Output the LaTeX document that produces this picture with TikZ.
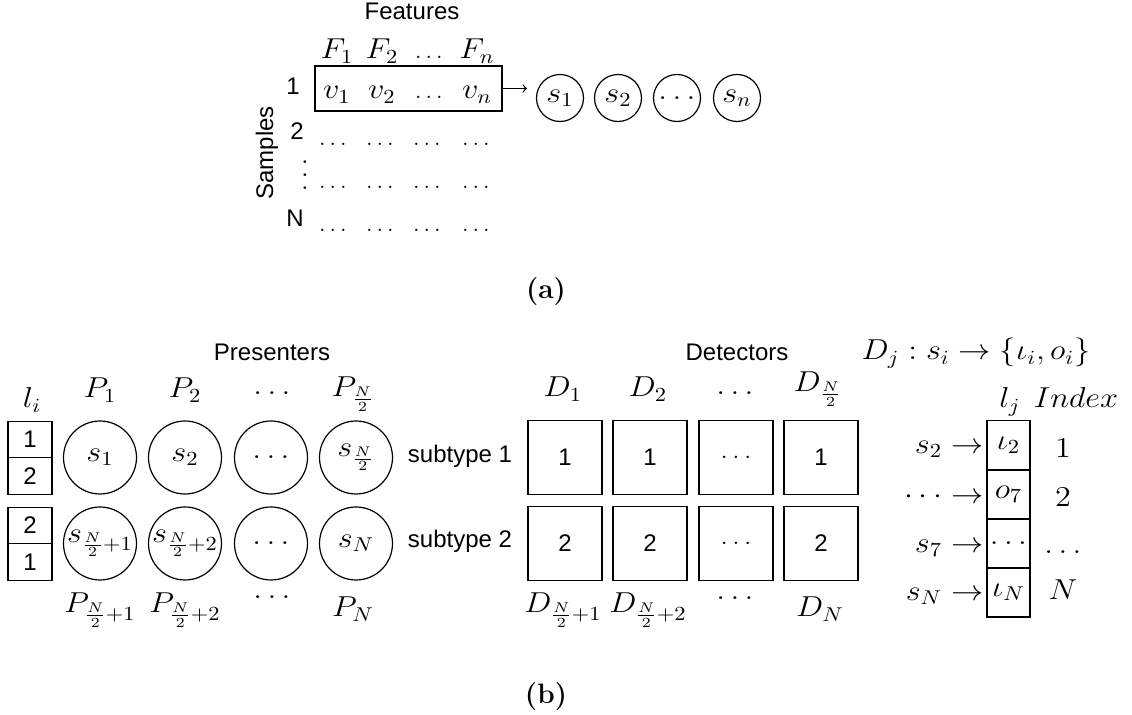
\documentclass[tikz,border=0pt]{standalone}
\usepackage{fontspec}
\usepackage{graphicx}
\setsansfont{Liberation Sans}
% math set slightly wide, as in the drawing
\newcommand{\wm}[1]{\scalebox{1.12}[1]{$#1$}}
% a tall stack of three dots
\newcommand{\tallvdots}{\vbox{\baselineskip=6.5pt\lineskiplimit=-10pt\hbox{.}\hbox{.}\hbox{.}}}
\begin{document}
\begin{tikzpicture}[x=0.5pt,y=-0.5pt,line width=0.6pt,
  mth/.style={inner sep=0pt,font=\fontsize{14}{16}\selectfont},
  dotrow/.style={inner sep=0pt,font=\fontsize{12.5}{14}\selectfont},
  sf/.style={inner sep=0pt,font=\fontsize{12}{14}\selectfont\sffamily},
  subcap/.style={inner sep=0pt,font=\fontsize{14}{16}\selectfont\bfseries},
  acirc/.style={circle,draw,minimum size=23.5pt,inner sep=0pt,font=\fontsize{14}{16}\selectfont},
  bcirc/.style={circle,draw,minimum size=36.5pt,inner sep=0pt,font=\fontsize{14}{16}\selectfont},
  dsq/.style={rectangle,draw,minimum width=37pt,minimum height=37pt,inner sep=0pt,font=\fontsize{12}{14}\selectfont\sffamily},
  lcell/.style={rectangle,draw,minimum width=22pt,minimum height=18.25pt,inner sep=0pt,font=\fontsize{12}{14}\selectfont\sffamily},
  jcell/.style={rectangle,draw,minimum width=21.5pt,minimum height=24.5pt,inner sep=0pt,font=\fontsize{14}{16}\selectfont},
  rowbox/.style={rectangle,draw,minimum width=93.5pt,minimum height=22.5pt,inner sep=0pt}]
\useasboundingbox (0,0) rectangle (1132,715);

% ---------- (a) feature matrix ----------
\node[sf,anchor=base] (feat) at (412,19.5) {Features};
\node[mth,anchor=base] (f1) at (337,59) {\wm{F_1}};
\node[mth,anchor=base] (f2) at (382,59) {\wm{F_2}};
\node[dotrow,anchor=base] (fd) at (429,59) {$\ldots$};
\node[mth,anchor=base] (fn) at (477,59) {\wm{F_n}};

\node[rowbox] (row1) at (408.5,88.5) {};
\node[mth,anchor=base] (v1) at (337,99) {\wm{v_1}};
\node[mth,anchor=base] (v2) at (382,99) {\wm{v_2}};
\node[dotrow,anchor=base] (vd) at (429,99) {$\ldots$};
\node[mth,anchor=base] (vn) at (477,99) {\wm{v_n}};

\node[sf,anchor=base] (r1) at (293,95) {1};
\node[sf,anchor=base] (r2) at (297,140) {2};
\node[mth] (rv) at (305,175) {\tallvdots};
\node[sf,anchor=base] (rN) at (295,227) {N};
\node[sf,rotate=90] (samples) at (267,153) {Samples};

\foreach \x [count=\i] in {333,380,427,476}{
  \node[dotrow,anchor=base] (da\i) at (\x,146) {$\ldots$};
  \node[dotrow,anchor=base] (db\i) at (\x,189) {$\ldots$};
  \node[dotrow,anchor=base] (dc\i) at (\x,232) {$\ldots$};
}

\coordinate (aend) at (527,88.5);
\draw[->] (row1.east) -- (aend);

\node[acirc] (as1) at (560,98) {\wm{s_1}};
\node[acirc] (as2) at (618,98) {\wm{s_2}};
\node[acirc] (asd) at (677,98) {\wm{\ldots}};
\node[acirc] (asn) at (737,98) {\wm{s_n}};

\node[subcap] (capa) at (546,292) {(a)};

% ---------- (b) presenters ----------
\node[sf,anchor=base] (pres) at (272,361) {Presenters};
\node[mth,anchor=base] (li) at (32,408) {\wm{l_i}};
\node[mth,anchor=base] (p1) at (100,398) {\wm{P_1}};
\node[mth,anchor=base] (p2) at (185,398) {\wm{P_2}};
\node[mth] (pd) at (272,393) {\wm{\ldots}};
\node[mth,anchor=base] (ph) at (353,397) {\wm{P_{\frac{N}{2}}}};

\node[lcell] (l11) at (30,439.5) {1};
\node[lcell] (l12) at (30,476) {2};
\node[lcell] (l21) at (30,525.5) {2};
\node[lcell] (l22) at (30,562) {1};

\node[bcirc] (c11) at (100,457.5) {\wm{s_1}};
\node[bcirc] (c12) at (185,457.5) {\wm{s_2}};
\node[bcirc] (c13) at (271,457.5) {\wm{\ldots}};
\node[bcirc] (c14) at (356,457.5) {\wm{s_{\frac{N}{2}}}};
\node[bcirc] (c21) at (100,543.5) {\wm{s_{\frac{N}{2}+1}}};
\node[bcirc] (c22) at (185,543.5) {\wm{s_{\frac{N}{2}+2}}};
\node[bcirc] (c23) at (271,543.5) {\wm{\ldots}};
\node[bcirc] (c24) at (356,543.5) {\wm{s_N}};

\node[mth,anchor=base] (pb1) at (100,613) {\wm{P_{\frac{N}{2}+1}}};
\node[mth,anchor=base] (pb2) at (185,613) {\wm{P_{\frac{N}{2}+2}}};
\node[mth] (pbd) at (272,597) {\wm{\ldots}};
\node[mth,anchor=base] (pbn) at (353,617) {\wm{P_N}};

\node[sf,anchor=base] (sub1) at (460,463) {subtype 1};
\node[sf,anchor=base] (sub2) at (460,548) {subtype 2};

% ---------- (b) detectors ----------
\node[sf,anchor=base] (det) at (737,361) {Detectors};
\node[mth,anchor=base] (d1) at (563,397) {\wm{D_1}};
\node[mth,anchor=base] (d2) at (648,397) {\wm{D_2}};
\node[mth] (dd) at (735,393) {\wm{\ldots}};
\node[mth,anchor=base] (dh) at (818,392) {\wm{D_{\frac{N}{2}}}};

\node[dsq] (q11) at (565,457.5) {1};
\node[dsq] (q12) at (650,457.5) {1};
\node[dsq] (q13) at (736,457.5) {\wm{\ldots}};
\node[dsq] (q14) at (821,457.5) {1};
\node[dsq] (q21) at (565,543.5) {2};
\node[dsq] (q22) at (650,543.5) {2};
\node[dsq] (q23) at (736,543.5) {\wm{\ldots}};
\node[dsq] (q24) at (821,543.5) {2};

\node[mth,anchor=base] (db1) at (563,613) {\wm{D_{\frac{N}{2}+1}}};
\node[mth,anchor=base] (db2) at (648,613) {\wm{D_{\frac{N}{2}+2}}};
\node[mth] (dbd) at (735,598) {\wm{\ldots}};
\node[mth,anchor=base] (dbn) at (820,617) {\wm{D_N}};

% ---------- (b) label table ----------
\node[mth,anchor=base] (rule) at (976,360) {\wm{D_j : s_i \rightarrow \{\iota_i, o_i\}}};
\node[mth,anchor=base] (lj) at (1010,408) {\wm{l_j}};
\node[mth,anchor=base] (idx) at (1076,408) {\wm{Index}};

\node[jcell] (j1) at (1008.5,445) {\wm{\iota_2}};
\node[jcell] (j2) at (1008.5,494.5) {\wm{o_7}};
\node[jcell] (j3) at (1008.5,543.5) {\wm{\ldots}};
\node[jcell] (j4) at (1008.5,592.5) {\wm{\iota_N}};

\node[mth,anchor=east] (a1) at (984,449) {\wm{s_2 \rightarrow}};
\node[mth,anchor=east] (a2) at (984,497) {\wm{\cdots \rightarrow}};
\node[mth,anchor=east] (a3) at (984,548) {\wm{s_7 \rightarrow}};
\node[mth,anchor=east] (a4) at (984,596) {\wm{s_N \rightarrow}};

\node[mth,anchor=base] (i1) at (1063,458) {\wm{1}};
\node[mth,anchor=base] (i2) at (1063,507) {\wm{2}};
\node[mth] (i3) at (1063,552) {\wm{\ldots}};
\node[mth,anchor=base] (i4) at (1063,600) {\wm{N}};

\node[subcap] (capb) at (546,697) {(b)};
\end{tikzpicture}
\end{document}
